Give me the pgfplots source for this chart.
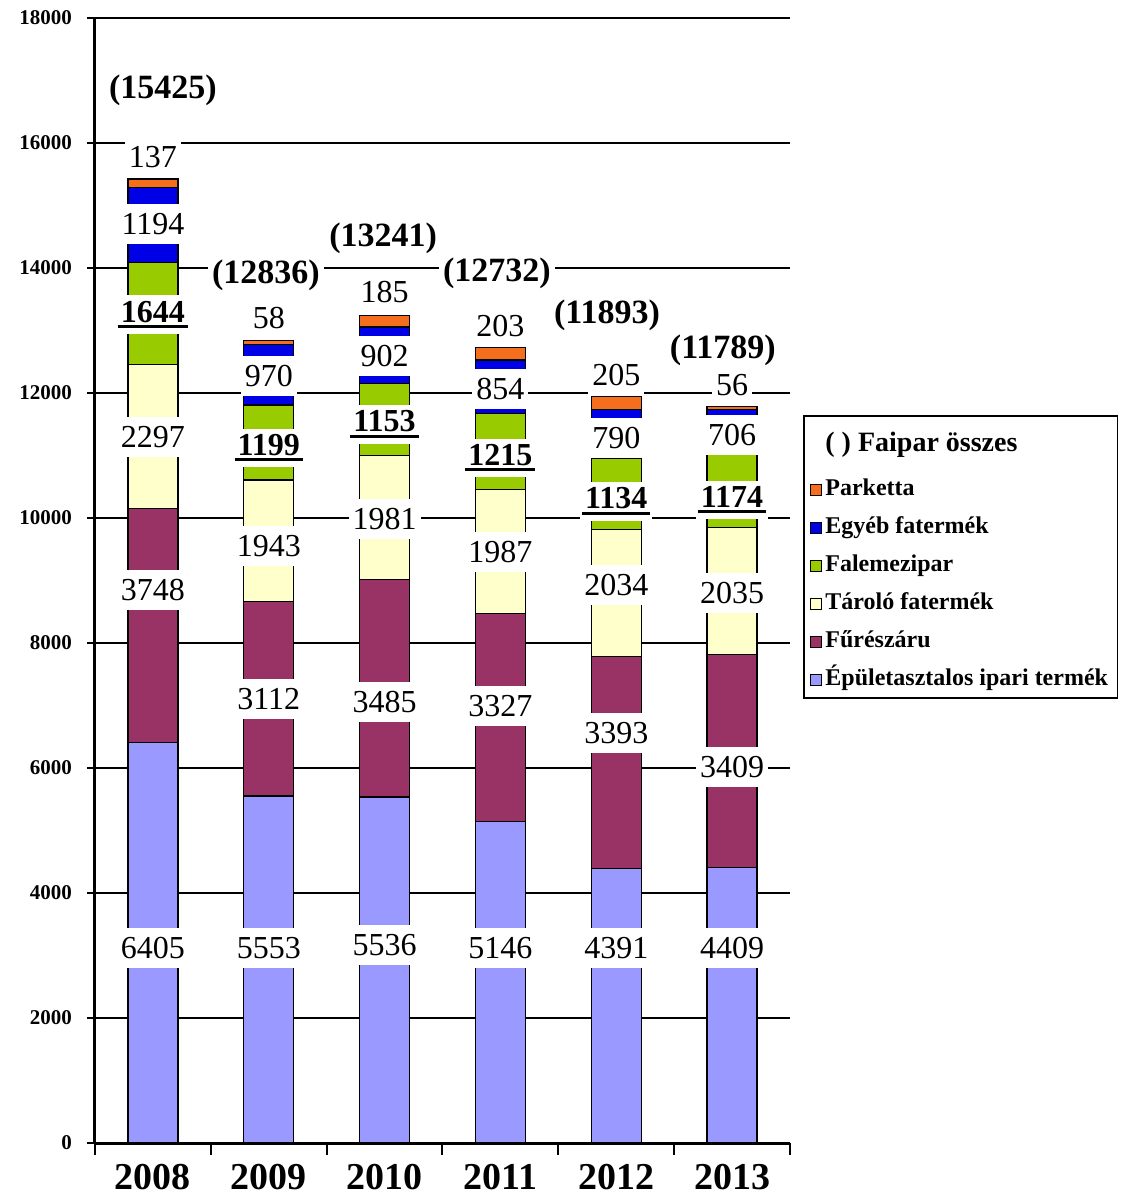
\documentclass[border=0pt]{standalone}
\usepackage{pgfplots}
\pgfplotsset{compat=1.18}
\usepackage{fontspec}
\setmainfont{Liberation Serif}
\definecolor{cEpulet}{RGB}{153,153,255}
\definecolor{cFuresz}{RGB}{153,51,102}
\definecolor{cTarolo}{RGB}{255,255,204}
\definecolor{cFalemez}{RGB}{153,204,0}
\definecolor{cEgyeb}{RGB}{0,0,230}
\definecolor{cParketta}{RGB}{245,110,30}
\newcommand\ulb[1]{\vbox{\hbox{\kern1.5pt\textbf{#1}\kern1.5pt}\kern1.2pt\hrule height 1.5pt}}
\tikzset{
  lab/.style={fill=white, inner xsep=2pt, inner ysep=4.5pt, font=\fontsize{16}{18}\selectfont},
  blab/.style={fill=white, inner xsep=1pt, inner ysep=3pt, font=\fontsize{16}{18}\selectfont},
  tot/.style={fill=white, inner xsep=2pt, inner ysep=3pt, font=\bfseries\fontsize{17}{19}\selectfont},
}
\pgfplotsset{
  sq/.style={legend image code/.code={\draw[#1, draw=black, line width=0.5pt] (0pt,-2.75pt) rectangle (5.5pt,2.75pt);}},
  common/.style={scale only axis, width=347.5pt, height=562.5pt, at={(0,0)}, anchor=south west,
    xmin=-0.5, xmax=5.5, ymin=0, ymax=18000},
}
\begin{document}
\begin{tikzpicture}
\begin{axis}[
  common,
  ybar stacked, bar width=25pt,
  axis lines=left, axis line style={-, line width=1.5pt},
  xtick={0,1,2,3,4,5}, xticklabels={2008,2009,2010,2011,2012,2013},
  minor xtick={-0.5,0.5,1.5,2.5,3.5,4.5,5.5},
  major x tick style={draw=none},
  ytick={0,2000,...,18000},
  tick align=outside,
  tick style={black, line width=1pt},
  major tick length=4pt, minor tick length=6pt,
  ymajorgrids, grid style={black, line width=0.6pt},
  scaled y ticks=false,
  /pgf/number format/assume math mode=true,
  /pgf/number format/1000 sep={},
  yticklabel style={font=\bfseries\fontsize{10.5}{12}\selectfont, xshift=-4pt},
  xticklabel style={font=\bfseries\fontsize{19}{21}\selectfont, yshift=-3pt},
  reverse legend,
  legend cell align=left,
  legend style={at={(1.0187,0.6471)}, anchor=north west, draw=black, line width=0.8pt,
    font=\bfseries\fontsize{12}{14}\selectfont, row sep=5pt,
    nodes={inner xsep=1.8pt, inner ysep=1pt, text height=9pt, text depth=3pt}},
]
\addplot[fill=cEpulet, draw=black, line width=0.6pt, sq] coordinates {(0,6405) (1,5553) (2,5536) (3,5146) (4,4391) (5,4409)};
\addlegendentry{Épületasztalos ipari termék}
\addplot[fill=cFuresz, draw=black, line width=0.6pt, sq] coordinates {(0,3748) (1,3112) (2,3485) (3,3327) (4,3393) (5,3409)};
\addlegendentry{Fűrészáru}
\addplot[fill=cTarolo, draw=black, line width=0.6pt, sq] coordinates {(0,2297) (1,1943) (2,1981) (3,1987) (4,2034) (5,2035)};
\addlegendentry{Tároló fatermék}
\addplot[fill=cFalemez, draw=black, line width=0.6pt, sq] coordinates {(0,1644) (1,1199) (2,1153) (3,1215) (4,1134) (5,1174)};
\addlegendentry{Falemezipar}
\addplot[fill=cEgyeb, draw=black, line width=0.6pt, sq] coordinates {(0,1194) (1,970) (2,902) (3,854) (4,790) (5,706)};
\addlegendentry{Egyéb fatermék}
\addplot[fill=cParketta, draw=black, line width=0.6pt, sq] coordinates {(0,137) (1,58) (2,185) (3,203) (4,205) (5,56)};
\addlegendentry{Parketta}
\addlegendimage{empty legend}
\addlegendentry[text height=15pt, text depth=6pt, font=\bfseries\fontsize{14}{16}\selectfont]{( ) Faipar összes}
\coordinate (O) at (rel axis cs:0,0);
\end{axis}
\begin{axis}[common, hide axis, clip=false]
% value labels
\node[lab] at (axis cs:0,3120) {6405};
\node[lab] at (axis cs:0,8848) {3748};
\node[lab] at (axis cs:0,11296) {2297};
\node[blab] at (axis cs:0,13250) {\ulb{1644}};
\node[lab] at (axis cs:0,14700) {1194};
\node[lab] at (axis cs:0,15776) {137};
\node[lab] at (axis cs:1,3120) {5553};
\node[lab] at (axis cs:1,7100) {3112};
\node[lab] at (axis cs:1,9552) {1943};
\node[blab] at (axis cs:1,11120) {\ulb{1199}};
\node[lab] at (axis cs:1,12272) {970};
\node[lab] at (axis cs:1,13200) {58};
\node[lab] at (axis cs:2,3168) {5536};
\node[lab] at (axis cs:2,7056) {3485};
\node[lab] at (axis cs:2,9984) {1981};
\node[blab] at (axis cs:2,11500) {\ulb{1153}};
\node[lab] at (axis cs:2,12592) {902};
\node[lab] at (axis cs:2,13616) {185};
\node[lab] at (axis cs:3,3120) {5146};
\node[lab] at (axis cs:3,6992) {3327};
\node[lab] at (axis cs:3,9456) {1987};
\node[blab] at (axis cs:3,10960) {\ulb{1215}};
\node[lab] at (axis cs:3,12064) {854};
\node[lab] at (axis cs:3,13072) {203};
\node[lab] at (axis cs:4,3120) {4391};
\node[lab] at (axis cs:4,6560) {3393};
\node[lab] at (axis cs:4,8928) {2034};
\node[blab] at (axis cs:4,10270) {\ulb{1134}};
\node[lab] at (axis cs:4,11280) {790};
\node[lab] at (axis cs:4,12288) {205};
\node[lab] at (axis cs:5,3120) {4409};
\node[lab] at (axis cs:5,6016) {3409};
\node[lab] at (axis cs:5,8800) {2035};
\node[blab] at (axis cs:5,10290) {\ulb{1174}};
\node[lab] at (axis cs:5,11328) {706};
\node[lab] at (axis cs:5,12128) {56};
% totals
\node[tot] at (axis cs:0.087,16848) {(15425)};
\node[tot] at (axis cs:0.976,13888) {(12836)};
\node[tot] at (axis cs:1.987,14480) {(13241)};
\node[tot] at (axis cs:2.97,13920) {(12732)};
\node[tot] at (axis cs:3.92,13248) {(11893)};
\node[tot] at (axis cs:4.92,12688) {(11789)};
\end{axis}
\pgfresetboundingbox
\path[use as bounding box] ([shift={(-47.5pt,-26pt)}]O) rectangle ([shift={(516pt,571.5pt)}]O);
\end{tikzpicture}
\end{document}
